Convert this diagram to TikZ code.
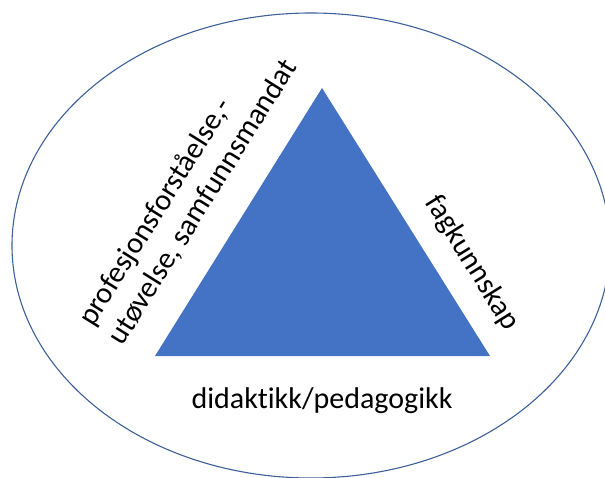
\documentclass[tikz,border=0pt]{standalone}
\usepackage{fontspec}
\setmainfont{Carlito}[Ligatures=NoCommon]
\usepackage{tikz}

\definecolor{triblue}{HTML}{4472C4}
\definecolor{ringblue}{HTML}{3D5F9A}

\begin{document}
\begin{tikzpicture}[x=1pt, y=1pt,
	label/.style={inner sep=0pt, font=\fontsize{30}{35}\selectfont}]
			% Frame
			\useasboundingbox (0,0) rectangle (605,477);
			\clip (0,0) rectangle (605,477);

			% Ring
			\draw[ringblue, line width=1.1pt] (311,231.5) ellipse [x radius=299, y radius=232.5];

			% Triangle corners
			\coordinate (top) at (322,389);
			\coordinate (left) at (155,121);
			\coordinate (right) at (490,121);
			\fill[triblue] (top) -- (left) -- (right) -- cycle;

			% Labels
			\node[label, align=left, rotate=58] (prof) at (188,284) {profesjonsforståelse,-\\utøvelse, samfunnsmandat};
			\node[label, rotate=-58] (fag) at (472,214) {fagkunnskap};
			\node[label, anchor=base] (didak) at (322,69) {didaktikk/pedagogikk};

		\end{tikzpicture}
\end{document}
